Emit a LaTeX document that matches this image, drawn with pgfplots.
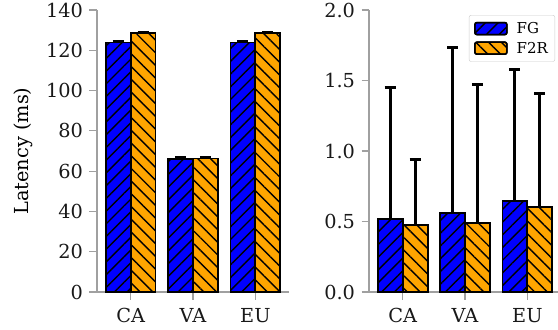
\documentclass[border=0pt]{standalone}
\usepackage{fontspec}
\setmainfont{DejaVu Serif}
\usepackage{pgfplots}
\pgfplotsset{compat=1.18}
\usetikzlibrary{patterns.meta}
\definecolor{fgblue}{HTML}{0000FF}
\definecolor{f2rorange}{HTML}{FFA500}
\definecolor{spine}{HTML}{A0A0A0}
\pgfplotsset{
  mybase/.style={
    scale only axis, width=192bp, height=282bp,
    anchor=south west,
    axis x line*=bottom, axis y line*=left,
    axis line style={spine, line width=1.2bp, -},
    every tick/.style={spine, line width=1.2bp},
    tick align=outside, major tick length=7.5bp,
    xmin=-0.54, xmax=2.54, ymin=0,
    xtick={0,1,2}, xticklabels={CA,VA,EU},
    ybar=0pt, bar width=0.4,
    /pgf/number format/assume math mode=true,
    tick label style={text=black!90, font=\fontsize{19.3bp}{22bp}\selectfont},
    xticklabel style={yshift=-5bp},
    yticklabel style={xshift=-3bp},
    label style={font=\fontsize{19.3bp}{22bp}\selectfont},
    legend image code/.code={\draw[##1, line width=1.5bp] (0bp,-6bp) rectangle (32bp,6bp);},
  },
  fgstyle/.style={draw=black, line width=1.8bp, fill=fgblue,
    postaction={pattern={Lines[angle=45,distance=9bp,line width=1.4bp]}, pattern color=black}},
  f2rstyle/.style={draw=black, line width=1.8bp, fill=f2rorange,
    postaction={pattern={Lines[angle=-45,distance=9bp,line width=1.4bp]}, pattern color=black}},
  errstyle/.style={error bars/.cd, y dir=plus, y explicit,
    error bar style={black, line width=2.8bp},
    error mark options={black, line width=2.8bp, mark size=5.5bp, rotate=90}},
}
\begin{document}
\begin{tikzpicture}
\begin{axis}[mybase, at={(97bp,-292bp)},
  ymax=140, ytick={0,20,...,140},
  ylabel={Latency (ms)},
  ylabel style={at={(axis description cs:-0.383,0.5)}, anchor=center},
]
\addplot[fgstyle, errstyle] coordinates {(0,123.9) +- (0,0.4) (1,66.2) +- (0,0.4) (2,123.9) +- (0,0.4)};
\addplot[f2rstyle, errstyle] coordinates {(0,128.6) +- (0,0.4) (1,66.3) +- (0,0.4) (2,128.7) +- (0,0.4)};
\end{axis}
\begin{axis}[mybase, at={(369bp,-292bp)},
  ymax=2.0, ytick={0,0.5,...,2.0},
  yticklabel style={/pgf/number format/.cd, fixed, fixed zerofill, precision=1},
  legend style={at={(0.969,0.982)}, anchor=north east, draw=black!20, rounded corners=2bp,
    fill=white, font=\fontsize{15bp}{18bp}\selectfont, row sep=3bp, inner sep=5bp,
    column sep=7bp},
  legend cell align=left,
]
\addplot[fgstyle, errstyle] coordinates {(0,0.515) +- (0,0.933) (1,0.558) +- (0,1.174) (2,0.648) +- (0,0.929)};
\addplot[f2rstyle, errstyle] coordinates {(0,0.475) +- (0,0.467) (1,0.491) +- (0,0.978) (2,0.605) +- (0,0.805)};
\legend{FG,F2R}
\end{axis}
\pgfresetboundingbox
\path[use as bounding box] (0,0) rectangle (558bp,-330bp);
\end{tikzpicture}
\end{document}
